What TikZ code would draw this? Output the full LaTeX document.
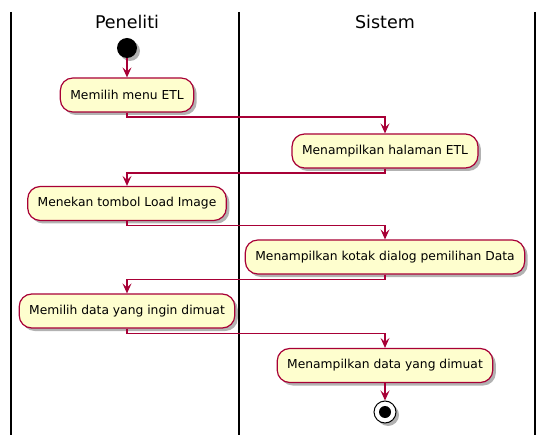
\documentclass[tikz,border=0pt]{standalone}
\usepackage{fontspec}
\setmainfont{DejaVu Sans}
\usetikzlibrary{arrows.meta,shadows}
\definecolor{pborder}{HTML}{A80036}
\definecolor{pfill}{HTML}{FEFECE}
\tikzset{
  shadowed/.style={drop shadow={shadow xshift=3pt, shadow yshift=-3pt, opacity=0.3, fill=black}},
  act/.style={draw=pborder, line width=1.2pt, fill=pfill, rounded corners=12.5pt,
    minimum height=34pt, inner xsep=10pt, font=\fontsize{12.3}{14}\selectfont, shadowed},
  flow/.style={draw=pborder, color=pborder, line width=1.2pt, -{Stealth[length=10pt,width=9pt,inset=4pt]}},
  lane/.style={draw=black, line width=1.5pt},
  head/.style={font=\fontsize{17.5}{20}\selectfont, anchor=base, inner sep=0pt},
}
\begin{document}
\begin{tikzpicture}[x=1pt, y=-1pt]
\useasboundingbox (0,0) rectangle (545,435);
% lanes
\draw[lane] (11,12) -- (11,435);
\draw[lane] (239,12) -- (239,435);
\draw[lane] (535,12) -- (535,435);
\node[head] (h1) at (127,29) {Peneliti};
\node[head] (h2) at (385,29) {Sistem};
% nodes
\node[circle, fill=black, minimum size=20pt, inner sep=0pt, shadowed] (start) at (127,48) {};
\node[act] (a1) at (127,95) {Memilih menu ETL};
\node[act] (a2) at (385,151) {Menampilkan halaman ETL};
\node[act] (a3) at (127,203.5) {Menekan tombol Load Image};
\node[act] (a4) at (385,257) {Menampilkan kotak dialog pemilihan Data};
\node[act] (a5) at (127,311) {Memilih data yang ingin dimuat};
\node[act] (a6) at (385,365.5) {Menampilkan data yang dimuat};
\node[circle, draw=black, line width=1pt, fill=white, minimum size=22pt, inner sep=0pt, shadowed] (stop) at (385,412) {};
\node[circle, fill=black, minimum size=12pt, inner sep=0pt] (stopdot) at (stop) {};
% flows
\draw[flow] (start) -- (a1);
\draw[flow] (a1.south) -- ++(0,4.5) -| (a2.north);
\draw[flow] (a2.south) -- ++(0,4.5) -| (a3.north);
\draw[flow] (a3.south) -- ++(0,4.5) -| (a4.north);
\draw[flow] (a4.south) -- ++(0,4.5) -| (a5.north);
\draw[flow] (a5.south) -- ++(0,4.5) -| (a6.north);
\draw[flow] (a6) -- (stop);
\end{tikzpicture}
\end{document}
